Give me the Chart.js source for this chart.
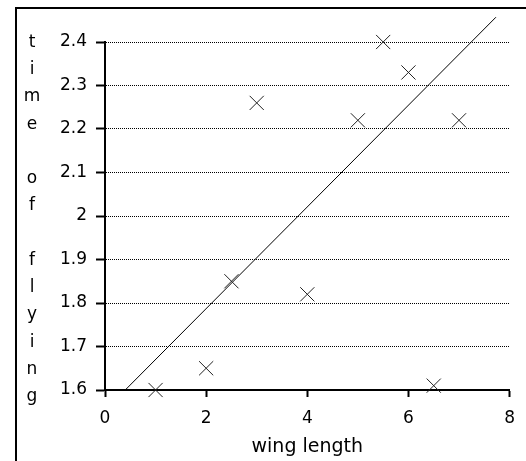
<!DOCTYPE html>
<html><head><meta charset="utf-8">
<script src="https://cdn.jsdelivr.net/npm/chart.js@4.4.0/dist/chart.umd.min.js"></script>
<style>html,body{margin:0;padding:0;background:#fff;overflow:hidden}</style>
</head><body>
<canvas id="c" width="526" height="461" style="width:526px;height:461px;display:block"></canvas>
<script>
const wingLength   = [1, 2, 2.5, 3, 4, 5, 5.5, 6, 6.5, 7];
const timeOfFlying = [1.60, 1.65, 1.85, 2.26, 1.82, 2.22, 2.40, 2.33, 1.61, 2.22];
const fitLineX = [0.4, 7.73];
const fitLineY = [1.60, 2.457];
const xTicks = [0, 2, 4, 6, 8];
const xTickLabels = ['0', '2', '4', '6', '8'];
const yTicks = [1.6, 1.7, 1.8, 1.9, 2.0, 2.1, 2.2, 2.3, 2.4];
const yTickLabels = ['1.6', '1.7', '1.8', '1.9', '2', '2.1', '2.2', '2.3', '2.4'];
const xTitle = 'wing length';
const yTitle = 'time of flying';

const FONT = 'DejaVu Sans';

function labelFor(ticks, labels, v) {
  const i = ticks.findIndex(t => Math.abs(t - v) < 1e-9);
  return i >= 0 ? labels[i] : '';
}

const framePlugin = {
  id: 'frame',
  beforeDraw(chart) {
    const ctx = chart.ctx;
    ctx.save();
    ctx.fillStyle = '#fff';
    ctx.fillRect(0, 0, chart.width, chart.height);
    ctx.fillStyle = '#000';
    ctx.fillRect(15, 7, chart.width - 15, 2);
    ctx.fillRect(15, 7, 2, chart.height - 7);
    ctx.restore();
  },
  afterDraw(chart) {
    const ctx = chart.ctx;
    const ys = chart.scales.y;
    const top = ys.getPixelForValue(yTicks[yTicks.length - 1]) + 5;
    const bottom = ys.getPixelForValue(yTicks[0]) + 11;
    const chars = [...yTitle];
    const step = (bottom - top) / (chars.length - 1);
    ctx.save();
    ctx.fillStyle = '#000';
    ctx.font = '17px "' + FONT + '"';
    ctx.textAlign = 'center';
    ctx.textBaseline = 'alphabetic';
    chars.forEach((ch, i) => { if (ch !== ' ') ctx.fillText(ch, 32, top + i * step); });
    ctx.restore();
  }
};

new Chart(document.getElementById('c'), {
  type: 'scatter',
  data: {
    datasets: [
      {
        data: wingLength.map((x, i) => ({ x: x, y: timeOfFlying[i] })),
        pointStyle: 'crossRot',
        pointRadius: 10,
        pointHoverRadius: 10,
        borderColor: '#222',
        backgroundColor: '#222',
        borderWidth: 1,
        clip: false
      },
      {
        data: fitLineX.map((x, i) => ({ x: x, y: fitLineY[i] })),
        showLine: true,
        pointRadius: 0,
        pointHoverRadius: 0,
        borderColor: '#000',
        borderWidth: 1,
        clip: false
      }
    ]
  },
  options: {
    responsive: false,
    animation: false,
    events: [],
    layout: { padding: { top: 42, right: 16, left: 0, bottom: 0 } },
    plugins: { legend: { display: false }, tooltip: { enabled: false } },
    scales: {
      x: {
        type: 'linear', min: 0, max: 8,
        afterBuildTicks(s) { s.ticks = xTicks.map(v => ({ value: v })); },
        afterFit(s) { s.height = 71; },
        ticks: {
          callback: v => labelFor(xTicks, xTickLabels, v),
          font: { family: FONT, size: 17 }, color: '#000',
          padding: 11, maxRotation: 0, autoSkip: false
        },
        grid: { drawOnChartArea: false, drawTicks: true, tickLength: 7, tickWidth: 2, tickColor: '#000' },
        border: { display: true, color: '#000', width: 2 },
        title: { display: true, text: xTitle, font: { family: FONT, size: 19 }, color: '#000', padding: { top: 0, bottom: 3 } }
      },
      y: {
        type: 'linear', min: 1.6, max: 2.4,
        afterBuildTicks(s) { s.ticks = yTicks.map(v => ({ value: v })); },
        afterFit(s) { s.width = 105; },
        ticks: {
          callback: v => labelFor(yTicks, yTickLabels, v),
          font: { family: FONT, size: 17 }, color: '#000',
          padding: 9, autoSkip: false
        },
        grid: { color: '#000', lineWidth: 1, drawTicks: true, tickLength: 9, tickWidth: 2, tickColor: '#000', tickBorderDash: [] },
        border: { display: true, color: '#000', width: 2, dash: [1, 1] }
      }
    }
  },
  plugins: [framePlugin]
});
</script>
</body></html>
